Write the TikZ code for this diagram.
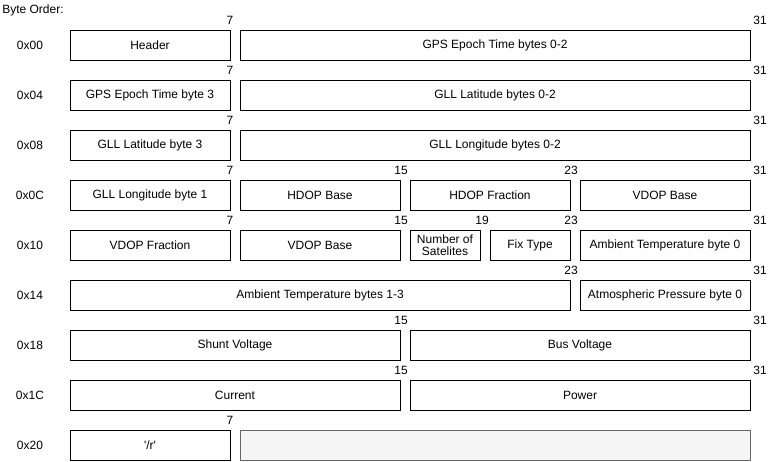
\documentclass[tikz,border=0pt]{standalone}
\usepackage{fontspec}
\setmainfont{Liberation Sans}
\usepackage{tikz}
\usetikzlibrary{positioning}
\usepackage{xcolor}
\definecolor{padfill}{HTML}{F5F5F5}
\definecolor{paddraw}{HTML}{666666}

\begin{document}
\begin{tikzpicture}[
    x=0.75pt,y=-0.75pt,
    fld/.style={draw,line width=0.75pt,minimum height=22.5pt,inner sep=1pt,outer sep=0pt,align=center,font=\fontsize{9}{10}\selectfont},
    pad/.style={fld,draw=paddraw,fill=padfill},
    bit/.style={inner sep=0pt,font=\fontsize{9}{10}\selectfont},
    addr/.style={inner sep=0pt,font=\fontsize{9}{10}\selectfont}
]
\useasboundingbox (0,0) rectangle (781,461);

\node[addr,anchor=west] (order) at (2,10) {Byte Order:};
\foreach \lbl [count=\i from 0] in {0x00,0x04,0x08,0x0C,0x10,0x14,0x18,0x1C,0x20}
    \node[addr] (addr\i) at (30,45+50*\i) {\lbl};

% bit positions
\foreach \b/\x in {7/230,31/760} \node[bit] (b0-\b) at (\x,20) {\b};
\foreach \b/\x in {7/230,31/760} \node[bit] (b1-\b) at (\x,70) {\b};
\foreach \b/\x in {7/230,31/760} \node[bit] (b2-\b) at (\x,120) {\b};
\foreach \b/\x in {7/230,15/401,23/571,31/760} \node[bit] (b3-\b) at (\x,170) {\b};
\foreach \b/\x in {7/230,15/401,19/482,23/571,31/760} \node[bit] (b4-\b) at (\x,220) {\b};
\foreach \b/\x in {23/571,31/760} \node[bit] (b5-\b) at (\x,270) {\b};
\foreach \b/\x in {15/401,31/760} \node[bit] (b6-\b) at (\x,320) {\b};
\foreach \b/\x in {15/401,31/760} \node[bit] (b7-\b) at (\x,370) {\b};
\foreach \b/\x in {7/230} \node[bit] (b8-\b) at (\x,420) {\b};

% fields
\node[fld,minimum width=120pt] (hdr) at (150,45) {Header};
\node[fld,minimum width=382.5pt] (gps) at (495,45) {GPS Epoch Time bytes 0-2};

\node[fld,minimum width=120pt] (gps3) at (150,95) {GPS Epoch Time byte 3};
\node[fld,minimum width=382.5pt] (lat) at (495,95) {GLL Latitude bytes 0-2};

\node[fld,minimum width=120pt] (lat3) at (150,145) {GLL Latitude byte 3};
\node[fld,minimum width=382.5pt] (lon) at (495,145) {GLL Longitude bytes 0-2};

\node[fld,minimum width=120pt] (lon1) at (150,195) {GLL Longitude byte 1};
\node[fld,minimum width=120pt] (hdopb) at (320,195) {HDOP Base};
\node[fld,minimum width=120pt] (hdopf) at (490,195) {HDOP Fraction};
\node[fld,minimum width=127.5pt] (vdopb) at (665,195) {VDOP Base};

\node[fld,minimum width=120pt] (vdopf) at (150,245) {VDOP Fraction};
\node[fld,minimum width=120pt] (vdopb2) at (320,245) {VDOP Base};
\node[fld,minimum width=52.5pt,font=\fontsize{9}{9}\selectfont] (nsat) at (445,245) {Number of\\Satelites};
\node[fld,minimum width=60pt] (fix) at (530,245) {Fix Type};
\node[fld,minimum width=127.5pt] (temp0) at (665,245) {Ambient Temperature byte 0};

\node[fld,minimum width=375pt] (temp) at (320,295) {Ambient Temperature bytes 1-3};
\node[fld,minimum width=127.5pt] (pres) at (665,295) {Atmospheric Pressure byte 0};

\node[fld,minimum width=247.5pt] (shunt) at (235,345) {Shunt Voltage};
\node[fld,minimum width=255pt] (bus) at (580,345) {Bus Voltage};

\node[fld,minimum width=247.5pt] (curr) at (235,395) {Current};
\node[fld,minimum width=255pt] (pwr) at (580,395) {Power};

\node[fld,minimum width=120pt] (cr) at (150,445) {\textquotesingle/r\textquotesingle};
\node[pad,minimum width=382.5pt] (rest) at (495,445) {};

\end{tikzpicture}
\end{document}
